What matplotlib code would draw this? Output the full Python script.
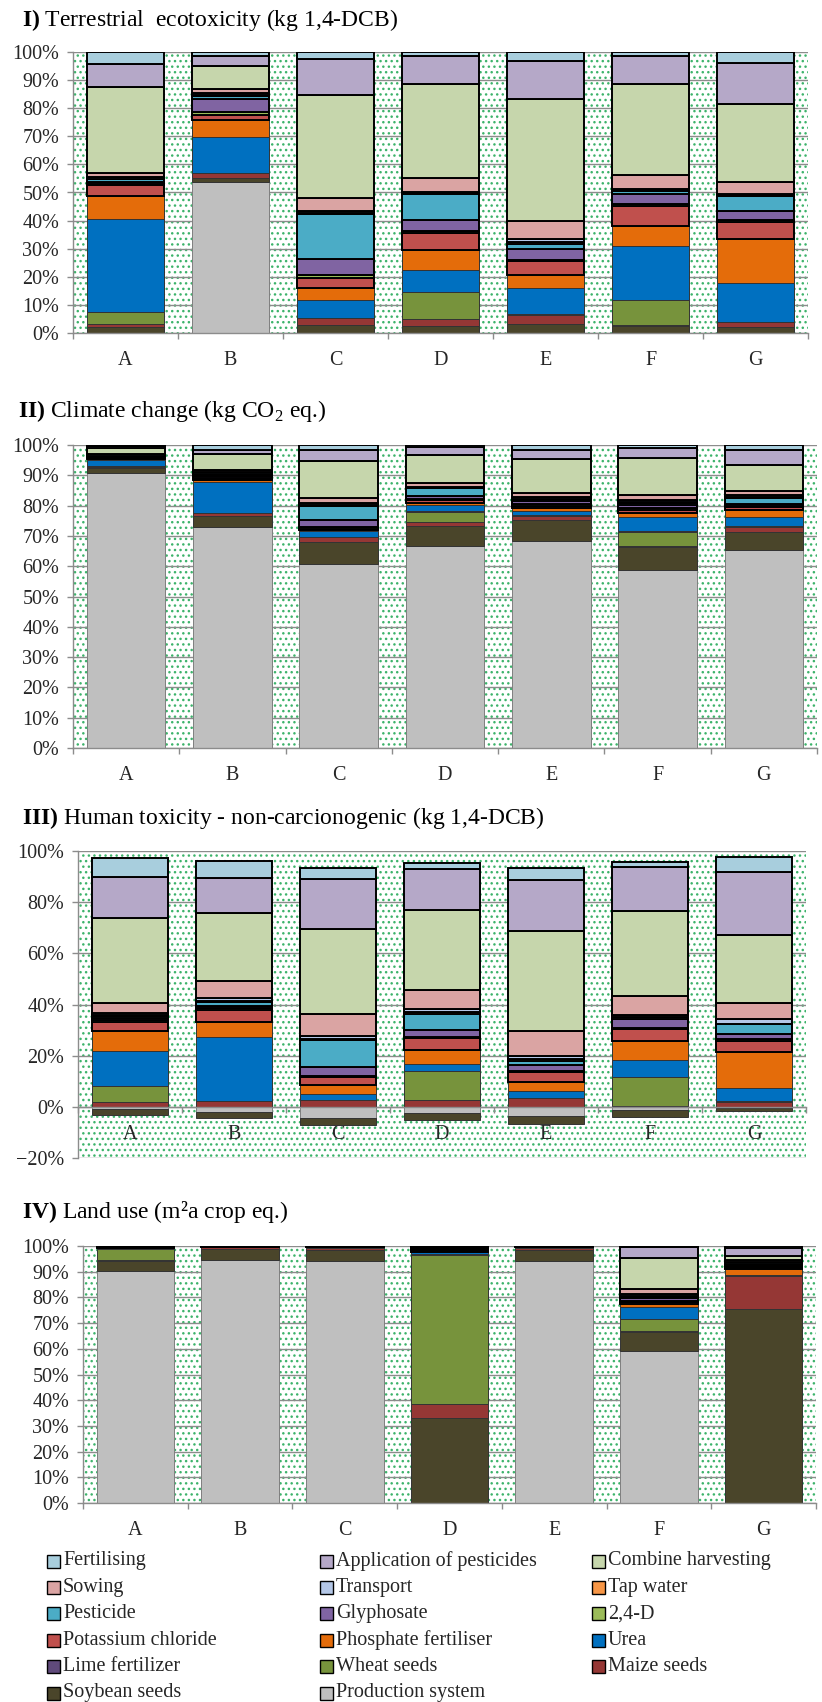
import numpy as np
import matplotlib.pyplot as plt
from matplotlib.patches import Rectangle
from matplotlib.ticker import PercentFormatter, MultipleLocator

plt.rcParams['font.family'] = ['Liberation Serif', 'DejaVu Serif']
plt.rcParams['mathtext.fontset'] = 'custom'
plt.rcParams['mathtext.rm'] = 'Liberation Serif'
plt.rcParams['mathtext.bf'] = 'Liberation Serif:bold'
plt.rcParams['hatch.linewidth'] = 1.0

W, H = 822, 1702

# ---------- data (stack order, bottom -> top) ---------- #
series = ["Production system", "Soybean seeds", "Maize seeds", "Wheat seeds",
          "Lime fertilizer", "Urea", "Phosphate fertiliser", "Potassium chloride",
          "2,4-D", "Glyphosate", "Pesticide", "Tap water", "Transport", "Sowing",
          "Combine harvesting", "Application of pesticides", "Fertilising"]
colors = ["#BFBFBF", "#4A452A", "#953735", "#77933C", "#604A7B", "#0070C0",
          "#E46C0A", "#C0504D", "#9BBB59", "#8064A2", "#4BACC6", "#F79646",
          "#B4C7E7", "#DAA4A3", "#C6D6AC", "#B5A8C8", "#A8CEDD"]
cats = ["A", "B", "C", "D", "E", "F", "G"]

# one row per scenario (A..G), values in % following `series`
terrestrial = [
    [0, 2.0, 1.3, 4.2, 0.1, 33.1, 7.9, 3.9, 0.5, 0.6, 1.0, 0.3, 0.4, 1.6, 30.5, 8.3, 4.2],
    [53.6, 1.6, 1.8, 0, 0.1, 12.7, 5.9, 1.9, 1.2, 4.6, 0.9, 0.4, 0.6, 1.5, 8.3, 3.6, 1.3],
    [0, 3.0, 2.3, 0, 0.1, 6.3, 4.2, 3.8, 0.8, 5.9, 16.0, 0.4, 0.5, 4.8, 36.8, 12.6, 2.6],
    [0, 2.6, 2.4, 9.5, 0.1, 8.0, 6.9, 6.2, 0.5, 4.0, 9.4, 0.3, 0.3, 5.1, 33.4, 10.1, 1.3],
    [0, 3.3, 3.2, 0, 0.1, 9.3, 4.6, 5.1, 0.5, 4.0, 1.7, 0.6, 1.0, 6.4, 43.7, 13.5, 3.1],
    [0, 2.6, 0.2, 9.0, 0.1, 19.0, 7.4, 7.1, 0.6, 3.6, 1.1, 0.3, 0.3, 5.1, 32.5, 10.1, 1.3],
    [0, 2.0, 1.8, 0, 0.1, 13.8, 15.9, 5.9, 0.6, 3.3, 5.3, 0.4, 0.5, 4.2, 27.6, 14.8, 3.9],
]
climate = [
    [90.9, 1.4, 0.3, 0.5, 0.1, 1.9, 0.3, 0.3, 0.2, 0.3, 0.2, 0.1, 0.4, 0.2, 2.0, 0.6, 0.3],
    [73.0, 3.5, 0.9, 0, 0.1, 10.2, 0.7, 0.3, 0.5, 0.6, 0.4, 0.2, 0.6, 0.6, 5.3, 1.6, 1.5],
    [60.7, 7.4, 1.6, 0, 0.1, 1.7, 0.3, 0.6, 0.6, 2.3, 4.7, 0.3, 0.5, 1.7, 12.1, 3.8, 1.6],
    [66.7, 6.5, 1.5, 3.3, 0.2, 2.0, 0.7, 0.9, 0.4, 0.9, 2.7, 0.1, 0.2, 1.3, 9.2, 2.8, 0.6],
    [68.3, 6.9, 1.4, 0, 0.3, 1.4, 0.8, 0.8, 0.5, 1.0, 0.6, 0.3, 0.6, 1.4, 11.1, 3.0, 1.6],
    [58.9, 7.5, 0.3, 4.7, 0.3, 4.6, 1.2, 1.0, 0.6, 1.2, 0.6, 0.3, 0.8, 1.4, 12.2, 3.4, 1.0],
    [65.5, 5.9, 1.6, 0, 0.2, 2.9, 2.4, 0.9, 0.4, 0.8, 2.0, 0.3, 0.6, 1.3, 8.6, 4.9, 1.7],
]
human_tox = [
    [-1.0, -2.2, 2.0, 6.0, 0.1, 13.6, 8.1, 3.5, 0.6, 1.0, 0.7, 0.4, 0.6, 3.9, 33.5, 15.7, 7.7],
    [-2.2, -2.3, 2.1, 0, 0.1, 25.0, 6.1, 4.6, 0.6, 1.1, 1.2, 0.6, 1.2, 6.4, 26.8, 13.7, 6.7],
    [-4.5, -2.6, 2.6, 0, 0.2, 2.2, 3.5, 3.0, 0.7, 3.5, 10.4, 0.5, 1.2, 8.5, 33.4, 19.3, 4.2],
    [-2.3, -2.8, 2.6, 11.3, 0.1, 2.7, 5.5, 4.6, 0.5, 2.9, 6.1, 0.6, 1.4, 7.2, 31.6, 15.8, 2.5],
    [-3.7, -2.9, 3.4, 0, 0.1, 2.8, 3.5, 3.7, 0.7, 2.3, 1.6, 0.5, 1.2, 9.8, 39.2, 19.8, 4.6],
    [-1.3, -2.7, 0.3, 11.2, 0.1, 6.8, 7.2, 4.9, 0.5, 3.4, 0.6, 0.3, 0.6, 7.6, 33.1, 17.3, 1.9],
    [-0.3, -1.4, 2.0, 0, 0.1, 5.1, 14.1, 4.6, 0.6, 2.0, 3.7, 0.3, 1.9, 6.1, 26.8, 24.3, 6.2],
]
land_use = [
    [90.3, 4.1, 0.5, 4.3, 0.1, 0.2, 0.1, 0.1, 0.05, 0.05, 0.05, 0.02, 0.1, 0.05, 0.1, 0.05, 0.03],
    [94.4, 4.2, 0.8, 0, 0.05, 0.1, 0.05, 0.05, 0.02, 0.05, 0.02, 0.01, 0.1, 0.02, 0.05, 0.02, 0.01],
    [94.0, 4.3, 0.9, 0, 0.05, 0.15, 0.05, 0.05, 0.02, 0.05, 0.05, 0.01, 0.1, 0.05, 0.1, 0.05, 0.02],
    [0, 33.2, 5.5, 57.9, 0.1, 0.8, 0.3, 0.4, 0.2, 0.2, 0.2, 0.1, 0.3, 0.2, 0.3, 0.2, 0.1],
    [94.0, 4.3, 0.9, 0, 0.05, 0.15, 0.05, 0.05, 0.02, 0.05, 0.02, 0.01, 0.1, 0.02, 0.1, 0.05, 0.02],
    [59.0, 7.5, 0.3, 4.7, 0.2, 4.6, 1.1, 0.8, 0.3, 1.1, 0.6, 0.3, 0.8, 2.1, 11.9, 4.2, 0.5],
    [0, 75.6, 12.6, 0, 0.1, 0.6, 2.0, 0.7, 0.3, 0.5, 0.4, 0.3, 0.7, 0.7, 1.8, 2.9, 0.8],
]

titles = [r"$\mathbf{I)}$ Terrestrial  ecotoxicity (kg 1,4-DCB)",
          r"$\mathbf{II)}$ Climate change (kg CO$_\mathregular{2}$ eq.)",
          r"$\mathbf{III)}$ Human toxicity - non-carcionogenic (kg 1,4-DCB)",
          r"$\mathbf{IV)}$ Land use (m²a crop eq.)"]

GRID = "#8C8C8C"
TXT = "#262626"

fig = plt.figure(figsize=(W / 100, H / 100), dpi=100)


def px_rect(left, top, right, bottom):
    return [left / W, 1 - bottom / H, (right - left) / W, (bottom - top) / H]


def draw_panel(rect, data, title, title_xy, ymin, step, normalize):
    ax = fig.add_axes(rect)
    vals = np.array(data, dtype=float).T
    if normalize:  # 100 % stacked, like the original sheet
        vals = vals / vals.sum(axis=0) * 100
    x = np.arange(len(cats))

    # dotted green plot-area fill
    bg = Rectangle((0, 0), 1, 1, transform=ax.transAxes, facecolor="white",
                   edgecolor="#3DB36B", hatch="...", lw=0, zorder=0.1)
    ax.add_artist(bg)

    pos = np.zeros(len(cats))
    neg = np.zeros(len(cats))
    for i, (name, col) in enumerate(zip(series, colors)):
        v = vals[i]
        bottom = np.where(v >= 0, pos, neg)
        if i >= 7:
            ec, lw = "black", 1.4
        else:
            ec, lw = ("#7F7F7F" if i == 0 else "#333333"), 0.7
        ax.bar(x, v, bottom=bottom, width=0.74, color=col, edgecolor=ec,
               linewidth=lw, zorder=2)
        pos += np.where(v >= 0, v, 0)
        neg += np.where(v < 0, v, 0)

    ax.set_xlim(-0.5, len(cats) - 0.5)
    ax.set_ylim(ymin, 100)
    ax.yaxis.set_major_locator(MultipleLocator(step))
    ax.yaxis.set_major_formatter(PercentFormatter(decimals=0))
    ax.set_axisbelow(True)
    ax.yaxis.grid(True, color=GRID, lw=1.0)

    for s in ["top", "right"]:
        ax.spines[s].set_visible(False)
    for s in ["left", "bottom"]:
        ax.spines[s].set_color(GRID)
        ax.spines[s].set_linewidth(1.0)
    if ymin < 0:
        ax.spines["bottom"].set_position(("data", 0))

    ax.set_xticks(x)
    ax.set_xticklabels(cats)
    ax.set_xticks(np.arange(-0.5, len(cats), 1), minor=True)
    ax.tick_params(axis="x", which="major", length=0, pad=13, labelsize=14.5,
                   labelcolor=TXT)
    ax.tick_params(axis="x", which="minor", length=4, color=GRID, width=1.0)
    ax.tick_params(axis="y", length=4, color=GRID, width=1.0, pad=6,
                   labelsize=14.5, labelcolor=TXT)

    fig.text(title_xy[0] / W, 1 - title_xy[1] / H, title, fontsize=17,
             va="baseline", ha="left", color="black")
    return ax


draw_panel(px_rect(73, 52, 808, 333), terrestrial, titles[0], (22, 26), 0, 10, True)
draw_panel(px_rect(73, 445, 817, 748), climate, titles[1], (18, 417), 0, 10, True)
draw_panel(px_rect(78, 851, 806, 1158), human_tox, titles[2], (22, 824), -20, 20, False)
draw_panel(px_rect(83, 1246, 816, 1503), land_use, titles[3], (22, 1218), 0, 10, True)

# ---------- legend: 3 columns, filled row by row ---------- #
legend_names = series[::-1]
col_x = [47, 320, 592]
for k, name in enumerate(legend_names):
    row, col = divmod(k, 3)
    x0 = col_x[col]
    yc = 1561 + row * 26.4
    fig.add_artist(Rectangle((x0 / W, 1 - (yc + 6.5) / H), 13 / W, 13 / H,
                             transform=fig.transFigure,
                             facecolor=colors[series.index(name)],
                             edgecolor="black", lw=1.0))
    fig.text((x0 + 16) / W, 1 - yc / H, name, fontsize=14.5, va="center",
             ha="left", color=TXT)

fig.savefig("out.png", dpi=100)
